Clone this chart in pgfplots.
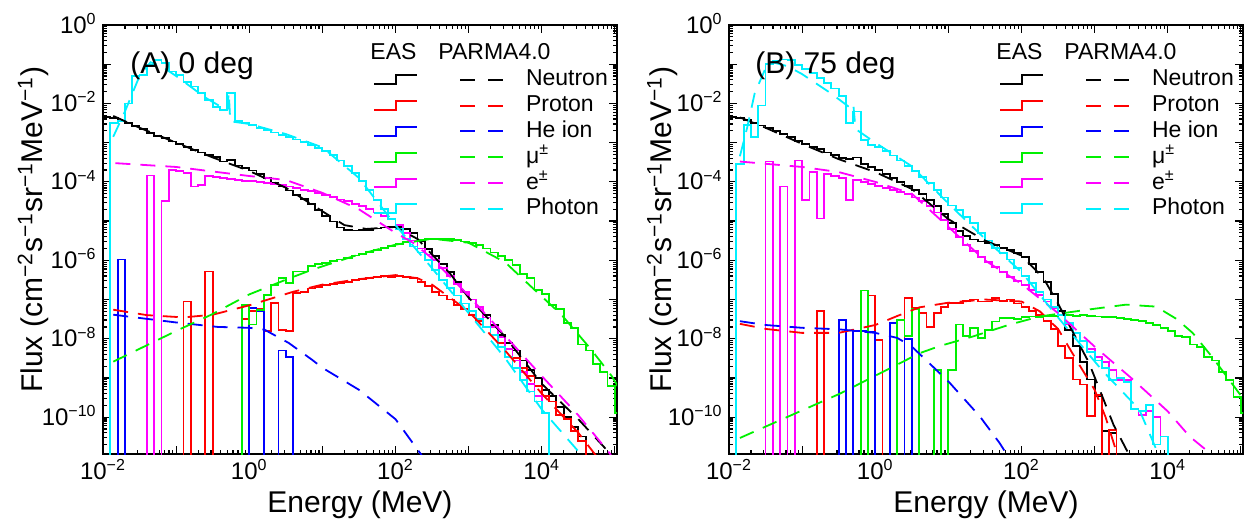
\documentclass[border=0pt]{standalone}
\usepackage{fontspec}
\setmainfont{Liberation Sans}
\usepackage{pgfplots}
\pgfplotsset{compat=1.18}
\usepackage{pgfplotstable}

\definecolor{cRed}{RGB}{255,0,0}
\definecolor{cBlue}{RGB}{0,0,255}
\definecolor{cGreen}{RGB}{0,240,0}
\definecolor{cMag}{RGB}{255,0,255}
\definecolor{cCyan}{RGB}{0,240,255}

% EAS histograms, 10 bins per decade; E = lower bin edge, 1e-15 = empty bin
\pgfplotstableread{
E n p he mu e g
0.01 4.6e-3 1e-15 1e-15 1e-15 1e-15 1e-15
0.01259 4.2e-3 1e-15 1e-15 1e-15 1e-15 3.2e-3
0.01585 3.6e-3 1e-15 1.05e-6 1e-15 1e-15 3.5e-3
0.01995 3.2e-3 1e-15 1e-15 1e-15 1e-15 1.0e-2
0.02512 2.7e-3 1e-15 1e-15 1e-15 1e-15 5.0e-2
0.03162 2.2e-3 1e-15 1e-15 1e-15 1e-15 5.4e-2
0.03981 1.74e-3 1e-15 1e-15 1e-15 1.45e-4 9.5e-2
0.05012 1.48e-3 1e-15 1e-15 1e-15 1e-15 0.129
0.0631 1.29e-3 1e-15 1e-15 1e-15 3.2e-5 0.105
0.07943 1.07e-3 1e-15 1e-15 1e-15 2.0e-4 6.5e-2
0.1 9.3e-4 1e-15 1e-15 1e-15 1.9e-4 5.4e-2
0.1259 7.9e-4 8.9e-8 1e-15 1e-15 1.66e-4 3.6e-2
0.1585 6.6e-4 1e-15 1e-15 1e-15 7.6e-5 2.7e-2
0.1995 5.6e-4 1e-15 1e-15 1e-15 8.3e-5 1.82e-2
0.2512 4.9e-4 5.2e-7 1e-15 1e-15 1.38e-4 1.23e-2
0.3162 4.3e-4 1e-15 1e-15 1e-15 1.32e-4 8.3e-3
0.3981 3.3e-4 1e-15 1e-15 1e-15 1.26e-4 6.8e-3
0.5012 3.6e-4 1e-15 1e-15 1e-15 1.2e-4 1.82e-2
0.631 2.6e-4 1e-15 1e-15 1e-15 1.12e-4 3.5e-3
0.7943 2.24e-4 3.2e-8 1e-15 7.4e-8 1.07e-4 3.2e-3
1 1.95e-4 5.0e-8 6.0e-8 2.3e-8 1.07e-4 2.8e-3
1.259 1.58e-4 5.6e-8 5.0e-8 5.5e-8 1.0e-4 2.4e-3
1.585 1.23e-4 1.58e-8 1e-15 1.32e-7 9.5e-5 2.1e-3
1.995 9.5e-5 8.1e-8 1e-15 2.4e-7 8.9e-5 1.82e-3
2.512 7.9e-5 1.7e-8 5.0e-9 3.5e-7 8.3e-5 1.58e-3
3.162 6.0e-5 1.58e-8 3.5e-9 2.6e-7 7.6e-5 1.38e-3
3.981 4.7e-5 1.48e-7 1e-15 5.2e-7 7.1e-5 1.2e-3
5.012 3.6e-5 1.58e-7 1e-15 5.2e-7 6.3e-5 1.05e-3
6.31 2.75e-5 1.9e-7 1e-15 7.1e-7 5.75e-5 8.9e-4
7.943 1.95e-5 2.1e-7 1e-15 7.9e-7 5.25e-5 7.4e-4
10 1.35e-5 2.4e-7 1e-15 8.7e-7 4.7e-5 6.0e-4
12.59 9.8e-6 2.5e-7 1e-15 9.5e-7 4.2e-5 4.8e-4
15.85 6.9e-6 2.6e-7 1e-15 1.05e-6 3.55e-5 3.5e-4
19.95 6.0e-6 2.8e-7 1e-15 1.17e-6 3.2e-5 2.5e-4
25.12 5.75e-6 3.2e-7 1e-15 1.32e-6 2.75e-5 1.66e-4
31.62 6.0e-6 3.3e-7 1e-15 1.48e-6 2.4e-5 1.05e-4
39.81 6.0e-6 3.5e-7 1e-15 1.66e-6 2.0e-5 6.3e-5
50.12 6.5e-6 3.8e-7 1e-15 1.86e-6 1.66e-5 3.5e-5
63.1 6.9e-6 4.0e-7 1e-15 2.1e-6 1.38e-5 2.0e-5
79.43 7.2e-6 3.8e-7 1e-15 2.34e-6 1.12e-5 1.12e-5
100 7.2e-6 4.0e-7 1e-15 2.6e-6 7.9e-6 6.3e-6
125.9 6.2e-6 3.8e-7 1e-15 2.9e-6 5.0e-6 3.5e-6
158.5 4.9e-6 3.5e-7 1e-15 3.2e-6 3.2e-6 2.24e-6
199.5 3.0e-6 2.8e-7 1e-15 3.3e-6 2.0e-6 1.58e-6
251.2 1.9e-6 2.24e-7 1e-15 3.5e-6 1.41e-6 1.0e-6
316.2 1.26e-6 1.58e-7 1e-15 3.55e-6 1.0e-6 5.6e-7
398.1 7.9e-7 1.26e-7 1e-15 3.55e-6 6.3e-7 3.2e-7
501.2 5.0e-7 1.0e-7 1e-15 3.5e-6 4.0e-7 2.0e-7
631 2.8e-7 7.1e-8 1e-15 3.3e-6 2.5e-7 1.26e-7
794.3 1.58e-7 5.6e-8 1e-15 3.0e-6 1.58e-7 7.9e-8
1000 1.0e-7 4.0e-8 1e-15 2.75e-6 1.0e-7 5.0e-8
1259 6.3e-8 2.8e-8 1e-15 2.4e-6 6.3e-8 3.2e-8
1585 4.0e-8 2.0e-8 1e-15 2.0e-6 3.5e-8 2.0e-8
1995 2.24e-8 1.26e-8 1e-15 1.58e-6 2.0e-8 1.26e-8
2512 1.26e-8 7.9e-9 1e-15 1.26e-6 1.12e-8 6.3e-9
3162 7.9e-9 3.5e-9 1e-15 1.0e-6 5.6e-9 3.5e-9
3981 5.0e-9 3.2e-9 1e-15 7.6e-7 2.8e-9 1.78e-9
5012 2.8e-9 1.78e-9 1e-15 4.5e-7 1.41e-9 8.9e-10
6310 1.58e-9 1.12e-9 1e-15 3.5e-7 7.1e-10 4.5e-10
7943 1.0e-9 6.3e-10 1e-15 1.78e-7 3.5e-10 2.5e-10
10000 5.0e-10 3.5e-10 1e-15 1.41e-7 1.26e-10 1.26e-10
12590 3.5e-10 2.5e-10 1e-15 7.1e-8 1e-15 1e-15
15850 1.78e-10 1.12e-10 1e-15 5.6e-8 1e-15 1e-15
19950 1.0e-10 8.9e-11 1e-15 2.5e-8 1e-15 1e-15
25120 5.6e-11 4.5e-11 1e-15 1.9e-8 1e-15 1e-15
31620 3.2e-11 2.5e-11 1e-15 7.1e-9 1e-15 1e-15
39810 1e-15 1e-15 1e-15 5.0e-9 1e-15 1e-15
50120 1e-15 1e-15 1e-15 2.24e-9 1e-15 1e-15
63100 1e-15 1e-15 1e-15 1.41e-9 1e-15 1e-15
79430 1e-15 1e-15 1e-15 6.3e-10 1e-15 1e-15
100000 1e-15 1e-15 1e-15 1.26e-10 1e-15 1e-15
125900 1e-15 1e-15 1e-15 1.26e-10 1e-15 1e-15
}\tabA

\pgfplotstableread{
E n p he mu e g
0.01 4.6e-3 1e-15 1e-15 1e-15 1e-15 1e-15
0.01259 4.2e-3 1e-15 1e-15 1e-15 1e-15 2.8e-4
0.01585 3.7e-3 1e-15 1e-15 1e-15 1e-15 2.8e-3
0.01995 3.2e-3 1e-15 1e-15 1e-15 1e-15 1.41e-3
0.02512 2.75e-3 1e-15 1e-15 1e-15 1e-15 8.9e-3
0.03162 2.34e-3 1e-15 1e-15 1e-15 3.3e-4 0.1
0.03981 2.0e-3 1e-15 1e-15 1e-15 1e-15 0.12
0.05012 1.7e-3 1e-15 1e-15 1e-15 7.6e-5 0.132
0.0631 1.41e-3 1e-15 1e-15 1e-15 1e-15 0.126
0.07943 1.12e-3 1e-15 1e-15 1e-15 3.5e-4 9.5e-2
0.1 9.3e-4 1e-15 1e-15 1e-15 3.5e-5 7.6e-2
0.1259 7.9e-4 1e-15 1e-15 1e-15 1.78e-4 6.0e-2
0.1585 6.8e-4 5.0e-8 1e-15 1e-15 1.17e-5 4.5e-2
0.1995 5.6e-4 1e-15 1e-15 1e-15 1.58e-4 3.3e-2
0.2512 4.8e-4 1e-15 1e-15 1e-15 1.41e-4 2.4e-2
0.3162 4.0e-4 1e-15 2.95e-8 1e-15 1.26e-4 1.58e-2
0.3981 3.8e-4 1e-15 1e-15 1e-15 3.5e-5 3.2e-3
0.5012 4.2e-4 1e-15 1.55e-8 1e-15 1.12e-4 6.2e-3
0.631 2.8e-4 1e-15 1.55e-8 1.7e-7 1.0e-4 1.17e-3
0.7943 2.34e-4 1.26e-7 1.48e-8 1e-15 8.9e-5 8.9e-4
1 2.0e-4 9.3e-9 1e-15 1e-15 7.9e-5 7.6e-4
1.259 1.58e-4 1e-15 1e-15 1e-15 7.1e-5 6.0e-4
1.585 1.26e-4 1e-15 2.5e-8 1e-15 6.3e-5 4.7e-4
1.995 1.0e-4 1e-15 1e-15 3.0e-8 5.6e-5 3.5e-4
2.512 7.9e-5 1.1e-7 1.0e-8 1.15e-8 5.0e-5 2.5e-4
3.162 6.3e-5 6.0e-8 1e-15 5.75e-8 4.0e-5 1.86e-4
3.981 4.8e-5 4.5e-8 1e-15 1e-15 3.2e-5 1.32e-4
5.012 3.5e-5 2.0e-8 1e-15 1e-15 2.4e-5 9.3e-5
6.31 2.4e-5 4.5e-8 1e-15 1.58e-9 1.66e-5 6.3e-5
7.943 1.51e-5 6.6e-8 1e-15 1e-15 1.05e-5 4.0e-5
10 8.9e-6 8.1e-8 1e-15 1.58e-9 6.3e-6 2.5e-5
12.59 5.6e-6 8.1e-8 1e-15 2.3e-8 4.0e-6 1.9e-5
15.85 4.2e-6 9.3e-8 1e-15 1.15e-8 2.5e-6 1.26e-5
19.95 3.4e-6 1.0e-7 1e-15 1.86e-8 1.7e-6 8.9e-6
25.12 3.0e-6 8.9e-8 1e-15 1.05e-8 1.2e-6 5.0e-6
31.62 2.7e-6 8.9e-8 1e-15 1.7e-8 8.9e-7 3.2e-6
39.81 2.4e-6 1.1e-7 1e-15 2.75e-8 6.6e-7 2.1e-6
50.12 2.1e-6 9.3e-8 1e-15 3.4e-8 5.0e-7 1.51e-6
63.1 1.82e-6 1.0e-7 1e-15 3.4e-8 3.8e-7 1.05e-6
79.43 1.51e-6 7.9e-8 1e-15 3.2e-8 3.0e-7 6.3e-7
100 1.2e-6 6.3e-8 1e-15 3.55e-8 2.4e-7 4.0e-7
125.9 7.9e-7 5.2e-8 1e-15 3.7e-8 1.78e-7 2.7e-7
158.5 5.0e-7 4.0e-8 1e-15 3.55e-8 1.32e-7 1.58e-7
199.5 2.8e-7 2.8e-8 1e-15 3.8e-8 8.9e-8 1.0e-7
251.2 1.41e-7 1.78e-8 1e-15 3.8e-8 6.0e-8 6.3e-8
316.2 5.0e-8 6.5e-9 1e-15 4.0e-8 4.0e-8 4.0e-8
398.1 1.7e-8 3.2e-9 1e-15 4.0e-8 2.4e-8 2.5e-8
501.2 6.5e-9 9.1e-10 1e-15 3.8e-8 1.41e-8 1.38e-8
631 2.5e-9 6.8e-10 1e-15 4.0e-8 8.9e-9 8.9e-9
794.3 9.1e-10 1.05e-10 1e-15 3.8e-8 5.6e-9 4.5e-9
1000 3.4e-10 3.7e-10 1e-15 3.7e-8 3.5e-9 2.8e-9
1259 4.4e-11 1e-15 1e-15 3.55e-8 2.5e-9 1.78e-9
1585 4.0e-11 4.8e-11 1e-15 3.55e-8 1.58e-9 8.9e-10
1995 1e-15 1e-15 1e-15 3.4e-8 8.9e-10 1.0e-9
2512 1e-15 1e-15 1e-15 3.2e-8 8.9e-10 7.9e-10
3162 1e-15 1e-15 1e-15 3.0e-8 1.58e-10 1.58e-10
3981 1e-15 1e-15 1e-15 2.8e-8 1.12e-10 1.41e-10
5012 1e-15 1e-15 1e-15 2.5e-8 1.41e-10 2.0e-10
6310 1e-15 1e-15 1e-15 2.24e-8 1.0e-10 2.0e-11
7943 1e-15 1e-15 1e-15 1.9e-8 3.2e-11 3.2e-11
10000 1e-15 1e-15 1e-15 1.58e-8 1e-15 1e-15
12590 1e-15 1e-15 1e-15 1.2e-8 1e-15 1e-15
15850 1e-15 1e-15 1e-15 1.12e-8 1e-15 1e-15
19950 1e-15 1e-15 1e-15 7.1e-9 1e-15 1e-15
25120 1e-15 1e-15 1e-15 6.3e-9 1e-15 1e-15
31620 1e-15 1e-15 1e-15 3.5e-9 1e-15 1e-15
39810 1e-15 1e-15 1e-15 2.8e-9 1e-15 1e-15
50120 1e-15 1e-15 1e-15 1.41e-9 1e-15 1e-15
63100 1e-15 1e-15 1e-15 8.9e-10 1e-15 1e-15
79430 1e-15 1e-15 1e-15 3.2e-10 1e-15 1e-15
100000 1e-15 1e-15 1e-15 1.26e-10 1e-15 1e-15
125900 1e-15 1e-15 1e-15 1.26e-10 1e-15 1e-15
}\tabB

% common look of both panels
\pgfplotsset{every axis/.append style={
    scale only axis, width=257pt, height=214.5pt,
    xmin=1e-2, xmax=1.07e5, ymin=1.15e-11, ymax=1,
    xtick={1e-2,1e-1,1,1e1,1e2,1e3,1e4,1e5},
    xticklabels={10\textsuperscript{−2},,10\textsuperscript{0},,10\textsuperscript{2},,10\textsuperscript{4},},
    ytick={1e-10,1e-9,1e-8,1e-7,1e-6,1e-5,1e-4,1e-3,1e-2,1e-1,1},
    yticklabels={10\textsuperscript{−10},,10\textsuperscript{−8},,10\textsuperscript{−6},,10\textsuperscript{−4},,10\textsuperscript{−2},,10\textsuperscript{0}},
    minor xtick={2e-2,3e-2,4e-2,5e-2,6e-2,7e-2,8e-2,9e-2,2e-1,3e-1,4e-1,5e-1,6e-1,7e-1,8e-1,9e-1,2,3,4,5,6,7,8,9,20,30,40,50,60,70,80,90,200,300,400,500,600,700,800,900,2e3,3e3,4e3,5e3,6e3,7e3,8e3,9e3,2e4,3e4,4e4,5e4,6e4,7e4,8e4,9e4},
    minor ytick={2e-11,3e-11,4e-11,5e-11,6e-11,7e-11,8e-11,9e-11,2e-10,3e-10,4e-10,5e-10,6e-10,7e-10,8e-10,9e-10,2e-9,3e-9,4e-9,5e-9,6e-9,7e-9,8e-9,9e-9,2e-8,3e-8,4e-8,5e-8,6e-8,7e-8,8e-8,9e-8,2e-7,3e-7,4e-7,5e-7,6e-7,7e-7,8e-7,9e-7,2e-6,3e-6,4e-6,5e-6,6e-6,7e-6,8e-6,9e-6,2e-5,3e-5,4e-5,5e-5,6e-5,7e-5,8e-5,9e-5,2e-4,3e-4,4e-4,5e-4,6e-4,7e-4,8e-4,9e-4,2e-3,3e-3,4e-3,5e-3,6e-3,7e-3,8e-3,9e-3,2e-2,3e-2,4e-2,5e-2,6e-2,7e-2,8e-2,9e-2,2e-1,3e-1,4e-1,5e-1,6e-1,7e-1,8e-1,9e-1},
    tick align=inside, major tick length=4pt, minor tick length=2pt,
    tick style={black, line width=0.6pt},
    axis line style={line width=0.9pt},
    ticklabel style={font=\fontsize{12}{14}\selectfont, inner sep=0pt},
    xticklabel style={anchor=base, yshift=-12.5pt},
    yticklabel style={anchor=base east, xshift=-3pt, yshift=-4pt},
    xlabel={Energy (MeV)},
    ylabel={Flux (cm\textsuperscript{−2}s\textsuperscript{−1}sr\textsuperscript{−1}MeV\textsuperscript{−1})},
    label style={font=\fontsize{15}{18}\selectfont, inner sep=0pt},
    xlabel style={at={(axis description cs:0.5,-0.1375)}, anchor=base},
    legend style={at={(axis description cs:0.5253,0.8977)}, anchor=north west,
      draw=none, fill=none, inner sep=0pt, outer sep=0pt,
      row sep=1.9pt, column sep=11pt,
      font=\fontsize{11.5}{13}\selectfont,
      nodes={inner sep=0pt, text height=8.5pt, text depth=2.5pt}},
    legend cell align=left,
  },
  easstep/.style={const plot, line width=0.9pt, forget plot},
  parmadash/.style={line width=0.9pt, dash pattern=on 7.5pt off 5pt, forget plot},
  % one path in the given colour: EAS step sample, then two PARMA dashes
  eassample/.style={legend image code/.code={
    \draw[#1, solid, line width=1pt] (0pt,-2.2pt) -- (10.75pt,-2.2pt) -- (10.75pt,2.2pt) -- (21.5pt,2.2pt)
      (43pt,0pt) -- (50.5pt,0pt) (57pt,0pt) -- (64.5pt,0pt);
  }},
}

\begin{document}
\begin{tikzpicture}
% ---------------- (A) 0 deg ----------------
\begin{loglogaxis}[at={(51.5pt,33.5pt)}, anchor=south west,
  ylabel style={at={(axis description cs:-0.117,0.523)}, anchor=base}]
\addplot[easstep, black] table[x=E, y=n] {\tabA};
\addplot[easstep, cRed] table[x=E, y=p] {\tabA};
\addplot[easstep, cBlue] table[x=E, y=he] {\tabA};
\addplot[easstep, cGreen] table[x=E, y=mu] {\tabA};
\addplot[easstep, cMag] table[x=E, y=e] {\tabA};
\addplot[easstep, cCyan] table[x=E, y=g] {\tabA};

\addplot[parmadash, black] coordinates {(0.0138,4.8e-3)(0.0316,2.4e-3)(0.1,1.0e-3)(0.316,4.2e-4)(1,1.9e-4)(3.16,7.1e-5)(10,1.78e-5)(20,7.9e-6)(40,6.3e-6)(100,7.1e-6)(200,3.5e-6)(316,1.41e-6)(562,4.5e-7)(1000,1.12e-7)(3162,1.12e-8)(1e4,7.1e-10)(31623,8.9e-11)(74000,1.6e-11)(1e5,8.9e-12)};
\addplot[parmadash, cRed] coordinates {(0.0138,5.5e-8)(0.0398,4.0e-8)(0.126,3.5e-8)(0.316,4.1e-8)(1,7.1e-8)(4,1.58e-7)(10,2.4e-7)(31.6,3.3e-7)(100,4.2e-7)(200,3.5e-7)(316,2.4e-7)(1000,5.0e-8)(3162,5.0e-9)(1e4,4.0e-10)(31623,4.0e-11)(56234,1.0e-11)};
\addplot[parmadash, cBlue] coordinates {(0.0138,4.1e-8)(0.1,2.6e-8)(0.372,2.0e-8)(1,1.9e-8)(1.62,1.7e-8)(3.47,7.8e-9)(7.24,2.9e-9)(10,1.82e-9)(31.6,5.0e-10)(100,8.9e-11)(224,1.12e-11)(260,7e-12)};
\addplot[parmadash, cGreen] coordinates {(0.0138,2.6e-9)(0.1,1.58e-8)(0.302,4.1e-8)(1,1.35e-7)(3.16,3.2e-7)(7.24,5.75e-7)(31.6,1.41e-6)(100,2.5e-6)(316,3.55e-6)(1000,2.8e-6)(3162,8.9e-7)(7943,1.78e-7)(18620,4.1e-8)(47860,5.2e-9)(91200,1.1e-9)(1.17e5,5.0e-10)};
\addplot[parmadash, cMag] coordinates {(0.0148,3.0e-4)(0.1,2.4e-4)(1,1.41e-4)(3.16,1.12e-4)(10,5.25e-5)(31.6,2.0e-5)(100,5.0e-6)(174,2.8e-6)(316,1.12e-6)(1000,1.26e-7)(1e4,1.12e-9)(31623,1.12e-10)(85100,1.2e-11)(1e5,7e-12)};
\addplot[parmadash, cCyan] coordinates {(0.0138,1.41e-3)(0.02,6.3e-3)(0.0316,5.0e-2)(0.0447,0.112)(0.063,8.9e-2)(0.1,5.0e-2)(0.251,1.41e-2)(0.5,6.6e-3)(0.525,1.9e-2)(0.55,3.5e-3)(1,3.0e-3)(3.16,1.66e-3)(10,7.6e-4)(31.6,1.26e-4)(100,7.9e-6)(316,6.3e-7)(1000,4.5e-8)(3162,3.2e-9)(1e4,1.58e-10)(31623,1.35e-11)(40000,7e-12)};

\addlegendimage{eassample=black}\addlegendentry{Neutron}
\addlegendimage{eassample=cRed}\addlegendentry{Proton}
\addlegendimage{eassample=cBlue}\addlegendentry{He ion}
\addlegendimage{eassample=cGreen}\addlegendentry{μ\textsuperscript{±}}
\addlegendimage{eassample=cMag}\addlegendentry{e\textsuperscript{±}}
\addlegendimage{eassample=cCyan}\addlegendentry{Photon}

\node[anchor=west, inner sep=0pt, font=\fontsize{11.5}{13}\selectfont] at (axis description cs:0.5195,0.9373) {EAS};
\node[anchor=west, inner sep=0pt, font=\fontsize{11.5}{13}\selectfont] at (axis description cs:0.6518,0.9373) {PARMA4.0};
\node[anchor=base west, inner sep=0pt, font=\fontsize{15}{18}\selectfont] at (axis description cs:0.0525,0.888) {(A) 0 deg};
\end{loglogaxis}

% ---------------- (B) 75 deg ----------------
\begin{loglogaxis}[at={(364.5pt,33.5pt)}, anchor=south west,
  ylabel style={at={(axis description cs:-0.111,0.523)}, anchor=base}]
\addplot[easstep, black] table[x=E, y=n] {\tabB};
\addplot[easstep, cRed] table[x=E, y=p] {\tabB};
\addplot[easstep, cBlue] table[x=E, y=he] {\tabB};
\addplot[easstep, cGreen] table[x=E, y=mu] {\tabB};
\addplot[easstep, cMag] table[x=E, y=e] {\tabB};
\addplot[easstep, cCyan] table[x=E, y=g] {\tabB};

\addplot[parmadash, black] coordinates {(0.0141,4.4e-3)(0.0316,2.4e-3)(0.1,9.3e-4)(0.316,3.8e-4)(1,1.78e-4)(3.16,6.6e-5)(10,1.12e-5)(31.6,3.2e-6)(100,1.32e-6)(200,3.5e-7)(316,7.9e-8)(562,1.0e-8)(832,2.5e-9)(1230,4.0e-10)(1820,6.3e-11)(2950,1.12e-11)(3300,7e-12)};
\addplot[parmadash, cRed] coordinates {(0.0141,2.4e-8)(0.0316,1.78e-8)(0.1,1.41e-8)(0.316,1.41e-8)(1,2.24e-8)(2,3.8e-8)(4,6.3e-8)(10,8.3e-8)(31.6,1.0e-7)(100,8.9e-8)(178,5.0e-8)(316,1.78e-8)(589,2.5e-9)(1000,5.0e-10)(1413,1.0e-10)(2000,1.26e-11)(2200,7e-12)};
\addplot[parmadash, cBlue] coordinates {(0.0141,2.8e-8)(0.0316,2.24e-8)(0.1,1.9e-8)(0.316,1.74e-8)(1,1.41e-8)(2,1.05e-8)(3.16,6.3e-9)(5.01,2.8e-9)(10.5,7.4e-10)(26.9,1.05e-10)(50.1,2.2e-11)(63.1,1.12e-11)(70,7e-12)};
\addplot[parmadash, cGreen] coordinates {(0.0141,2.95e-11)(0.331,4.0e-10)(4.07,4.3e-9)(7.59,6.5e-9)(21.9,1.15e-8)(69.2,2.3e-8)(178,3.7e-8)(851,5.6e-8)(2690,7.4e-8)(6918,6.6e-8)(13180,3.2e-8)(21880,1.41e-8)(41690,3.2e-9)(95500,4.0e-10)(1.12e5,2.5e-10)};
\addplot[parmadash, cMag] coordinates {(0.0141,3.3e-4)(0.1,2.4e-4)(0.316,1.78e-4)(1,1.0e-4)(3.16,5.0e-5)(10,7.1e-6)(31.6,1.0e-6)(100,2.5e-7)(316,4.5e-8)(1000,6.3e-9)(3162,1.0e-9)(1e4,1.41e-10)(20000,3.2e-11)(39800,1.12e-11)(45000,7e-12)};
\addplot[parmadash, cCyan] coordinates {(0.0141,4.5e-4)(0.0178,2.5e-3)(0.0224,1.78e-2)(0.0316,7.9e-2)(0.0398,0.112)(0.063,8.9e-2)(0.1,5.6e-2)(0.251,1.78e-2)(0.447,7.9e-3)(0.5,1.0e-2)(0.537,2.24e-3)(1,1.0e-3)(3.16,2.5e-4)(10,2.8e-5)(31.6,3.55e-6)(100,5.0e-7)(316,3.5e-8)(1259,1.58e-9)(4070,1.58e-10)(7080,1.41e-11)(7600,7e-12)};

\addlegendimage{eassample=black}\addlegendentry{Neutron}
\addlegendimage{eassample=cRed}\addlegendentry{Proton}
\addlegendimage{eassample=cBlue}\addlegendentry{He ion}
\addlegendimage{eassample=cGreen}\addlegendentry{μ\textsuperscript{±}}
\addlegendimage{eassample=cMag}\addlegendentry{e\textsuperscript{±}}
\addlegendimage{eassample=cCyan}\addlegendentry{Photon}

\node[anchor=west, inner sep=0pt, font=\fontsize{11.5}{13}\selectfont] at (axis description cs:0.5195,0.9373) {EAS};
\node[anchor=west, inner sep=0pt, font=\fontsize{11.5}{13}\selectfont] at (axis description cs:0.6518,0.9373) {PARMA4.0};
\node[anchor=base west, inner sep=0pt, font=\fontsize{15}{18}\selectfont] at (axis description cs:0.0506,0.888) {(B) 75 deg};
\end{loglogaxis}
\pgfresetboundingbox
\path (0pt,0pt) rectangle (626.5pt,260.5pt);
\end{tikzpicture}
\end{document}
